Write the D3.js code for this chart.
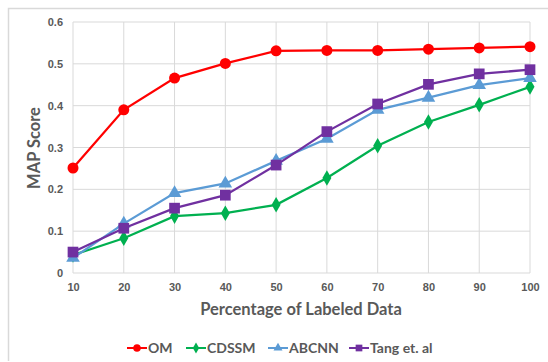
<!DOCTYPE html>
<html>
<head>
<meta charset="utf-8">
<script src="https://cdn.jsdelivr.net/npm/d3@7"></script>
<style>
	body { margin: 0; background: #fff; }
	svg { display: block; font-family: Lato, "Open Sans", sans-serif; }
	.tick text { fill: #595959; font-weight: bold; font-size: 11px; }
</style>
</head>
<body>
<div id="chart"></div>
<script>
var percents = [10, 20, 30, 40, 50, 60, 70, 80, 90, 100];
var yTicks = [0, 0.1, 0.2, 0.3, 0.4, 0.5, 0.6];
var seriesNames = ["OM", "CDSSM", "ABCNN", "Tang et. al"];
var omScores = [0.251, 0.390, 0.466, 0.501, 0.531, 0.532, 0.532, 0.535, 0.538, 0.541];
var cdssmScores = [0.043, 0.083, 0.136, 0.143, 0.163, 0.227, 0.304, 0.361, 0.402, 0.445];
var abcnnScores = [0.036, 0.118, 0.191, 0.214, 0.268, 0.321, 0.390, 0.419, 0.449, 0.466];
var tangScores = [0.050, 0.107, 0.155, 0.186, 0.258, 0.338, 0.404, 0.451, 0.476, 0.486];

var width = 548, height = 362;

var series = [
	{ name: seriesNames[0], values: omScores, color: "#FF0000", symbol: d3.symbolCircle, size: 95, lsize: 45 },
	{ name: seriesNames[1], values: cdssmScores, color: "#00B050", symbol: d3.symbolDiamond, size: 70, lsize: 35 },
	{ name: seriesNames[2], values: abcnnScores, color: "#5B9BD5", symbol: d3.symbolTriangle, size: 80, lsize: 35 },
	{ name: seriesNames[3], values: tangScores, color: "#7030A0", symbol: d3.symbolSquare, size: 115, lsize: 45 }
];

var svg = d3.select("#chart").append("svg").attr("width", width).attr("height", height);

// chart frame
svg.append("path")
	.attr("d", "M8.5," + (height - 1) + "V8.5H" + width)
	.attr("fill", "none").attr("stroke", "#d9d9d9").attr("stroke-width", 1.5);

var x = d3.scaleLinear().domain([10, 100]).range([73, 530]);
var y = d3.scaleLinear().domain([0, 0.6]).range([273, 22]);

// grid
svg.append("g").selectAll("line").data(yTicks).enter().append("line")
	.attr("x1", x(10)).attr("x2", x(100))
	.attr("y1", function(d){ return y(d); }).attr("y2", function(d){ return y(d); })
	.attr("stroke", "#d9d9d9").attr("stroke-width", 1);
svg.append("g").selectAll("line").data(percents).enter().append("line")
	.attr("x1", function(d){ return x(d); }).attr("x2", function(d){ return x(d); })
	.attr("y1", y(0)).attr("y2", y(0.6))
	.attr("stroke", "#d9d9d9").attr("stroke-width", 1);

var xAxis = d3.axisBottom(x).tickValues(percents).tickSize(0).tickPadding(10);
var yAxis = d3.axisLeft(y).tickValues(yTicks).tickSize(0).tickPadding(10)
	.tickFormat(function(d){ return d === 0 ? "0" : d3.format(".1f")(d); });

svg.append("g").attr("transform", "translate(0," + y(0) + ")").call(xAxis)
	.call(function(g){ g.select(".domain").remove(); });
svg.append("g").attr("transform", "translate(" + x(10) + ",0)").call(yAxis)
	.call(function(g){ g.select(".domain").remove(); });

// axis titles
svg.append("text").attr("x", 301).attr("y", 315).attr("text-anchor", "middle")
	.attr("fill", "#595959").attr("font-weight", "bold").attr("font-size", 16.5)
	.text("Percentage of Labeled Data");
svg.append("text").attr("transform", "translate(40,148) rotate(-90)").attr("text-anchor", "middle")
	.attr("fill", "#595959").attr("font-weight", "bold").attr("font-size", 16.5)
	.text("MAP Score");

var line = d3.line()
	.x(function(d, i){ return x(percents[i]); })
	.y(function(d){ return y(d); });

series.forEach(function(s){
	var g = svg.append("g");
	g.append("path").attr("d", line(s.values))
		.attr("fill", "none").attr("stroke", s.color).attr("stroke-width", 2.25);
	g.selectAll("path.pt").data(s.values).enter().append("path")
		.attr("class", "pt")
		.attr("d", d3.symbol().type(s.symbol).size(s.size))
		.attr("transform", function(d, i){ return "translate(" + x(percents[i]) + "," + y(d) + ")"; })
		.attr("fill", s.color);
});

// legend
var legendX = [127, 186, 268, 349];
var legend = svg.append("g").attr("transform", "translate(0,348)");
series.forEach(function(s, i){
	var lg = legend.append("g").attr("transform", "translate(" + legendX[i] + ",0)");
	lg.append("line").attr("x1", 0).attr("x2", 20).attr("stroke", s.color).attr("stroke-width", 2);
	lg.append("path").attr("d", d3.symbol().type(s.symbol).size(s.lsize)).attr("transform", "translate(10,0)").attr("fill", s.color);
	lg.append("text").attr("x", 21).attr("dy", "0.36em").attr("fill", "#595959")
		.attr("font-weight", "bold").attr("font-size", 14).text(s.name);
});
</script>
</body>
</html>
